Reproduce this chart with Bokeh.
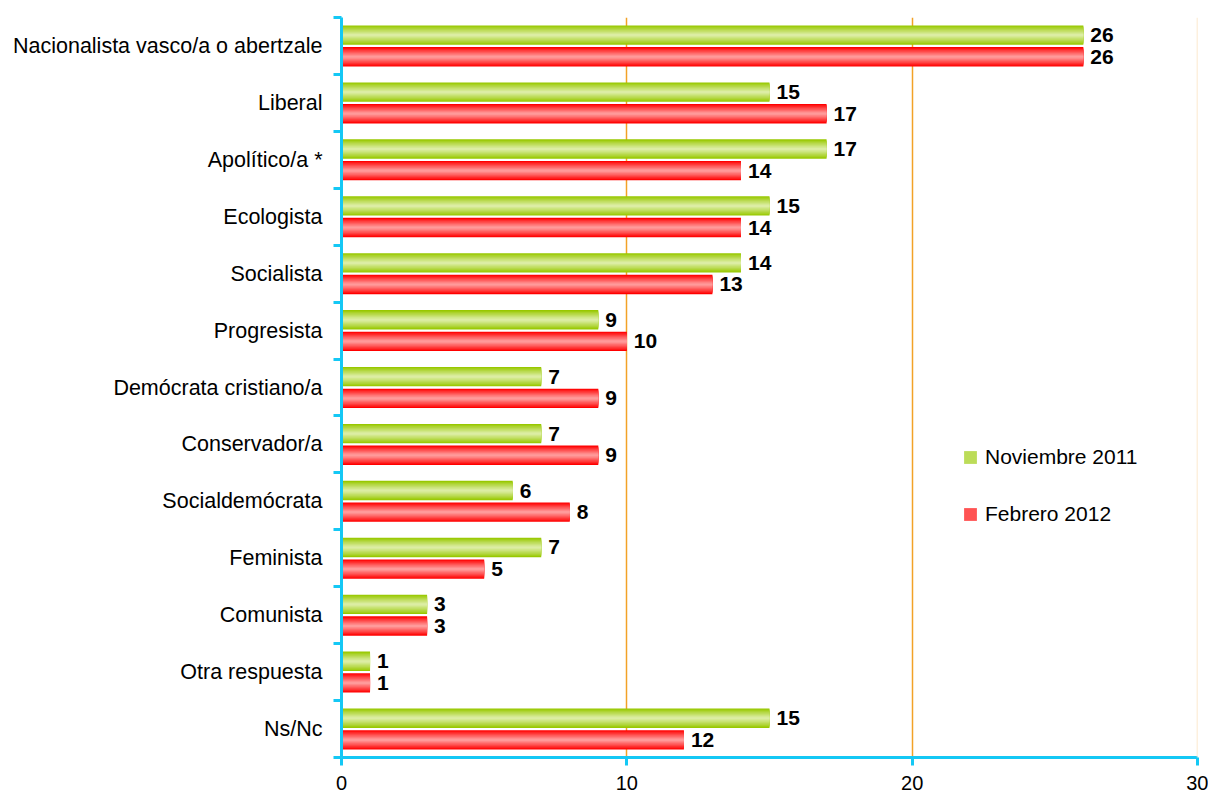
from bokeh.plotting import figure
from bokeh.models import (Range1d, FixedTicker, CustomJSTickFormatter, Span, Legend, LegendItem)
from bokeh.embed import file_html
from bokeh.resources import INLINE
from bokeh.core.properties import value

categories = ["Nacionalista vasco/a o abertzale", "Liberal", "Apolítico/a *", "Ecologista",
              "Socialista", "Progresista", "Demócrata cristiano/a", "Conservador/a",
              "Socialdemócrata", "Feminista", "Comunista", "Otra respuesta", "Ns/Nc"]
nov_2011 = [26, 15, 17, 15, 14, 9, 7, 7, 6, 7, 3, 1, 15]
feb_2012 = [26, 17, 14, 14, 13, 10, 9, 9, 8, 5, 3, 1, 12]
x_ticks = [0, 10, 20, 30]
series_names = ["Noviembre 2011", "Febrero 2012"]

FONT = "Liberation Sans"
CYAN = "#14C8F5"
ORANGE = "#F2A227"

n = len(categories)
p = figure(width=1208, height=793, output_backend="svg", toolbar_location=None,
           x_range=Range1d(0, 30), y_range=Range1d(n, 0),
           min_border_left=341, min_border_right=11, min_border_top=17, min_border_bottom=36)
p.outline_line_color = None
p.background_fill_color = "white"

# grid
p.xgrid.ticker = FixedTicker(ticks=[10, 20])
p.xgrid.grid_line_color = ORANGE
p.xgrid.grid_line_width = 1.5
p.ygrid.grid_line_color = None
p.add_layout(Span(location=30, dimension="height", line_color="#FCE2BE", line_width=1.5))


def blend(c1, c2, t):
    a = [int(c1[i:i + 2], 16) for i in (1, 3, 5)]
    b = [int(c2[i:i + 2], 16) for i in (1, 3, 5)]
    return "#%02x%02x%02x" % tuple(int(round(a[k] + (b[k] - a[k]) * t)) for k in range(3))


bar_h = 0.34
offset = 0.19
steps = 9
series = [(nov_2011, -offset, "#98C800", "#DCEDA4"), (feb_2012, offset, "#FF0000", "#FF9A9A")]
legend_items = []
for (vals, off, edge, center), name in zip(series, series_names):
    ys = [i + 0.5 + off for i in range(n)]
    mid_r = None
    for k in range(steps):
        frac = 1 - k / steps
        t = (k / (steps - 1)) ** 0.9
        col = blend(edge, center, t)
        r = p.hbar(y=ys, height=bar_h * frac, left=0, right=vals, fill_color=col, line_color=None)
        if k == 4:
            mid_r = r
    legend_items.append(LegendItem(label=name, renderers=[mid_r]))
    p.text(x=vals, y=ys, text=[str(v) for v in vals], x_offset=7,
           text_font=value(FONT), text_font_size="21px", text_font_style="bold",
           text_baseline="middle", text_align="left", text_color="black")

# axes
yax = p.yaxis[0]
yax.ticker = FixedTicker(ticks=[i + 0.5 for i in range(n)], minor_ticks=list(range(n + 1)))
yax.formatter = CustomJSTickFormatter(args=dict(labels=categories),
                                      code="return labels[Math.floor(tick)];")
yax.axis_line_color = CYAN
yax.axis_line_width = 3
yax.major_tick_line_color = None
yax.major_tick_out = 0
yax.major_tick_in = 0
yax.minor_tick_line_color = CYAN
yax.minor_tick_line_width = 3
yax.minor_tick_out = 8
yax.minor_tick_in = 0
yax.major_label_standoff = 11
yax.major_label_text_font = FONT
yax.major_label_text_font_size = "21.5px"
yax.major_label_text_color = "black"

xax = p.xaxis[0]
xax.ticker = FixedTicker(ticks=x_ticks, minor_ticks=[])
xax.axis_line_color = CYAN
xax.axis_line_width = 3
xax.major_tick_line_color = CYAN
xax.major_tick_line_width = 3
xax.major_tick_out = 8
xax.major_tick_in = 0
xax.minor_tick_line_color = None
xax.major_label_standoff = 10
xax.major_label_text_font = FONT
xax.major_label_text_font_size = "20px"
xax.major_label_text_color = "black"

legend = Legend(items=legend_items, location=(621, 231), orientation="vertical",
                glyph_width=16, glyph_height=16, label_height=16, spacing=33,
                label_standoff=7, padding=0, margin=0,
                label_text_font=FONT, label_text_font_size="21px", label_text_color="black",
                border_line_color=None, background_fill_alpha=0)
p.add_layout(legend)

open("out.html", "w").write(file_html(p, INLINE))
